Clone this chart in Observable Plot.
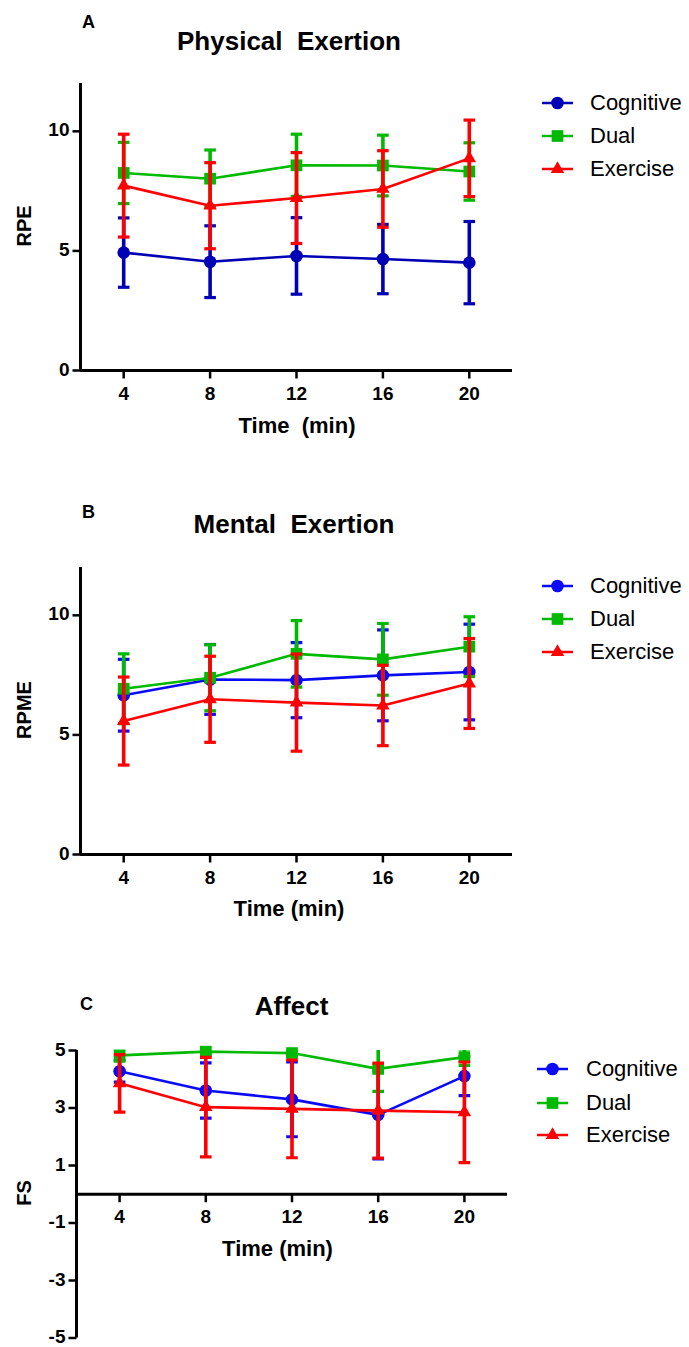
<!DOCTYPE html>
<html>
<head>
<meta charset="utf-8">
<script src="https://cdn.jsdelivr.net/npm/d3@7"></script>
<script src="https://cdn.jsdelivr.net/npm/@observablehq/plot@0.6"></script>
<style>
  html, body { margin: 0; padding: 0; background: #fff; }
  body { font-family: "Liberation Sans", Arial, Helvetica, sans-serif; color: #000; }
  #root { position: relative; width: 689px; height: 1347px; overflow: hidden; background: #fff; }
  .abs { position: absolute; white-space: pre; line-height: 1; }
  .plotbox { position: absolute; left: 0; }
</style>
</head>
<body>
<div id="root"></div>
<script>
// ---------------- DATA ----------------
const times = [4, 8, 12, 16, 20];
const seriesNames = ["Cognitive", "Dual", "Exercise"];

// Panel A – Physical Exertion (RPE): mean and error (SD)
const rpeCognitiveMean = [4.93, 4.55, 4.79, 4.66, 4.51];
const rpeCognitiveSD   = [1.45, 1.50, 1.60, 1.45, 1.72];
const rpeDualMean      = [8.26, 8.02, 8.58, 8.57, 8.32];
const rpeDualSD        = [1.28, 1.20, 1.30, 1.27, 1.20];
const rpeExerciseMean  = [7.73, 6.89, 7.21, 7.59, 8.87];
const rpeExerciseSD    = [2.15, 1.80, 1.90, 1.60, 1.60];

// Panel B – Mental Exertion (RPME)
const rpmeCognitiveMean = [6.66, 7.32, 7.29, 7.49, 7.63];
const rpmeCognitiveSD   = [1.50, 1.46, 1.57, 1.90, 2.00];
const rpmeDualMean      = [6.93, 7.39, 8.39, 8.16, 8.69];
const rpmeDualSD        = [1.46, 1.38, 1.39, 1.50, 1.25];
const rpmeExerciseMean  = [5.58, 6.49, 6.35, 6.23, 7.15];
const rpmeExerciseSD    = [1.84, 1.80, 2.03, 1.68, 1.88];

// Panel C – Affect (FS)
const fsCognitiveMean = [4.28, 3.61, 3.30, 2.76, 4.11];
const fsCognitiveSD   = [0.38, 0.96, 1.30, 1.53, 0.68];
const fsDualMean      = [4.83, 4.96, 4.91, 4.36, 4.77];
const fsDualSD        = [0.20, 0.10, 0.10, 0.78, 0.29];
const fsExerciseMean  = [3.86, 3.03, 2.97, 2.91, 2.85];
const fsExerciseSD    = [1.00, 1.73, 1.70, 1.65, 1.75];

const rpeTicks  = [0, 5, 10];
const rpmeTicks = [0, 5, 10];
const fsTicks   = [-5, -3, -1, 1, 3, 5];

// ---------------- STYLE ----------------
const FONT = '"Liberation Sans", Arial, Helvetica, sans-serif';
const darkBlue = "#0000B4", brightBlue = "#0A0AF5", green = "#00B900", red = "#FF0000";
const symbols = [d3.symbolCircle, d3.symbolSquare, d3.symbolTriangle];
const symbolR = [6.3, 6.6, 5.0];

// custom symbols
const capSymbol = { draw(ctx, size) { const r = Math.sqrt(size / Math.PI); ctx.moveTo(-r, 0); ctx.lineTo(r, 0); } };
const yTickSymbol = { draw(ctx, size) { const r = Math.sqrt(size / Math.PI); ctx.moveTo(0, 0); ctx.lineTo(-r, 0); } };
const xTickSymbol = { draw(ctx, size) { const r = Math.sqrt(size / Math.PI); ctx.moveTo(0, 0); ctx.lineTo(0, r); } };

const root = document.getElementById("root");

function addText(str, x, baseline, size, weight, anchor) {
  const d = document.createElement("div");
  d.className = "abs";
  d.textContent = str;
  d.style.fontSize = size + "px";
  d.style.fontWeight = weight;
  d.style.left = x + "px";
  d.style.top = (baseline - 0.8465 * size) + "px";
  if (anchor === "middle") d.style.transform = "translateX(-50%)";
  root.appendChild(d);
}
function addVText(str, cx, cy, size) {
  const d = document.createElement("div");
  d.className = "abs";
  d.textContent = str;
  d.style.fontSize = size + "px";
  d.style.fontWeight = "bold";
  d.style.left = cx + "px";
  d.style.top = cy + "px";
  d.style.transform = "translate(-50%,-50%) rotate(-90deg)";
  root.appendChild(d);
}
function addLegend(colors, lineX0, textX, rows) {
  seriesNames.forEach((name, i) => {
    const cy = rows[i];
    const svg = d3.create("svg").attr("width", 40).attr("height", 20)
      .style("position", "absolute").style("left", (lineX0 - 2) + "px").style("top", (cy - 10) + "px");
    svg.append("line").attr("x1", 2).attr("x2", 33).attr("y1", 10).attr("y2", 10)
      .attr("stroke", colors[i]).attr("stroke-width", 2.5);
    const sz = symbolR[i] * symbolR[i] * Math.PI;
    svg.append("path").attr("d", d3.symbol(symbols[i], sz)())
      .attr("transform", "translate(17.5,10)").attr("fill", colors[i]);
    root.appendChild(svg.node());
    addText(name, textX, cy + 8, 22, "normal", "start");
  });
}

function renderPanel(cfg) {
  const marks = [];
  // axes
  marks.push(Plot.ruleX([cfg.xDomain[0]], { stroke: "black", strokeWidth: 3 }));
  marks.push(Plot.ruleY([cfg.xAxisAt], { stroke: "black", strokeWidth: 3 }));
  marks.push(Plot.dot(cfg.ticks, { y: d => d, frameAnchor: "left", symbol: yTickSymbol, r: 8, stroke: "black", strokeWidth: 2.5, fill: "none" }));
  marks.push(Plot.text(cfg.ticks, { y: d => d, frameAnchor: "left", text: d => String(d), textAnchor: "end", dx: -11, dy: -1, fontSize: 19, fontWeight: "bold", fill: "black" }));
  marks.push(Plot.dot(times, { x: d => d, y: () => cfg.xAxisAt, symbol: xTickSymbol, r: 8, stroke: "black", strokeWidth: 2.5, fill: "none" }));
  marks.push(Plot.text(times, { x: d => d, y: () => cfg.xAxisAt, text: d => String(d), dy: 23, fontSize: 19, fontWeight: "bold", fill: "black" }));

  cfg.series.forEach((s, k) => {
    const rows = times.map((t, i) => ({ time: t, mean: s.mean[i], lo: s.mean[i] - s.sd[i], hi: s.mean[i] + s.sd[i] }));
    marks.push(Plot.line(rows, { x: "time", y: "mean", stroke: s.color, strokeWidth: 2.6 }));
    marks.push(Plot.ruleX(rows, { x: "time", y1: "lo", y2: "hi", stroke: s.color, strokeWidth: 3.6, clip: true }));
    marks.push(Plot.dot(rows, { x: "time", y: "hi", symbol: capSymbol, r: 5.8, stroke: s.color, strokeWidth: 3.2, fill: "none", clip: true }));
    marks.push(Plot.dot(rows, { x: "time", y: "lo", symbol: capSymbol, r: 5.8, stroke: s.color, strokeWidth: 3.2, fill: "none", clip: true }));
    marks.push(Plot.dot(rows, { x: "time", y: "mean", symbol: symbols[k], r: symbolR[k], fill: s.color, stroke: "none" }));
  });

  const chart = Plot.plot({
    width: 689,
    height: cfg.height,
    marginLeft: cfg.marginLeft,
    marginRight: cfg.marginRight,
    marginTop: cfg.marginTop,
    marginBottom: cfg.marginBottom,
    x: { domain: cfg.xDomain, axis: null },
    y: { domain: cfg.yDomain, axis: null },
    style: { fontFamily: FONT, background: "transparent", overflow: "visible" },
    marks
  });
  const box = document.createElement("div");
  box.className = "plotbox";
  box.style.top = cfg.top + "px";
  box.appendChild(chart);
  root.appendChild(box);
}

// ---------------- PANEL A ----------------
const colorsA = [darkBlue, green, red];
renderPanel({
  top: 0, height: 450, marginLeft: 80, marginRight: 177, marginTop: 83, marginBottom: 80,
  xDomain: [2, 22], yDomain: [0, 12], ticks: rpeTicks, xAxisAt: 0,
  series: [
    { mean: rpeCognitiveMean, sd: rpeCognitiveSD, color: colorsA[0] },
    { mean: rpeDualMean, sd: rpeDualSD, color: colorsA[1] },
    { mean: rpeExerciseMean, sd: rpeExerciseSD, color: colorsA[2] }
  ]
});
addText("A", 82, 28, 18, "bold", "start");
addText("Physical  Exertion", 289, 50, 26, "bold", "middle");
addVText("RPE", 24, 226, 20);
addText("Time  (min)", 297, 434, 22, "bold", "middle");
addLegend(colorsA, 542, 590, [103, 136, 169]);

// ---------------- PANEL B ----------------
const colorsB = [brightBlue, green, red];
renderPanel({
  top: 484, height: 450, marginLeft: 80, marginRight: 177, marginTop: 83, marginBottom: 80,
  xDomain: [2, 22], yDomain: [0, 12], ticks: rpmeTicks, xAxisAt: 0,
  series: [
    { mean: rpmeCognitiveMean, sd: rpmeCognitiveSD, color: colorsB[0] },
    { mean: rpmeDualMean, sd: rpmeDualSD, color: colorsB[1] },
    { mean: rpmeExerciseMean, sd: rpmeExerciseSD, color: colorsB[2] }
  ]
});
addText("B", 82, 518, 18, "bold", "start");
addText("Mental  Exertion", 294, 533, 26, "bold", "middle");
addVText("RPME", 24, 710, 20);
addText("Time (min)", 289, 917, 22, "bold", "middle");
addLegend(colorsB, 542, 590, [586, 619, 652]);

// ---------------- PANEL C ----------------
const colorsC = [brightBlue, green, red];
renderPanel({
  top: 967, height: 378, marginLeft: 76, marginRight: 182, marginTop: 83, marginBottom: 7.5,
  xDomain: [2, 22], yDomain: [-5, 5], ticks: fsTicks, xAxisAt: 0,
  series: [
    { mean: fsCognitiveMean, sd: fsCognitiveSD, color: colorsC[0] },
    { mean: fsDualMean, sd: fsDualSD, color: colorsC[1] },
    { mean: fsExerciseMean, sd: fsExerciseSD, color: colorsC[2] }
  ]
});
addText("C", 80, 1010, 18, "bold", "start");
addText("Affect", 291.5, 1015, 26, "bold", "middle");
addVText("FS", 24, 1193, 20);
addText("Time (min)", 277.5, 1257, 22, "bold", "middle");
addLegend(colorsC, 537, 586, [1069, 1103, 1135]);
</script>
</body>
</html>
